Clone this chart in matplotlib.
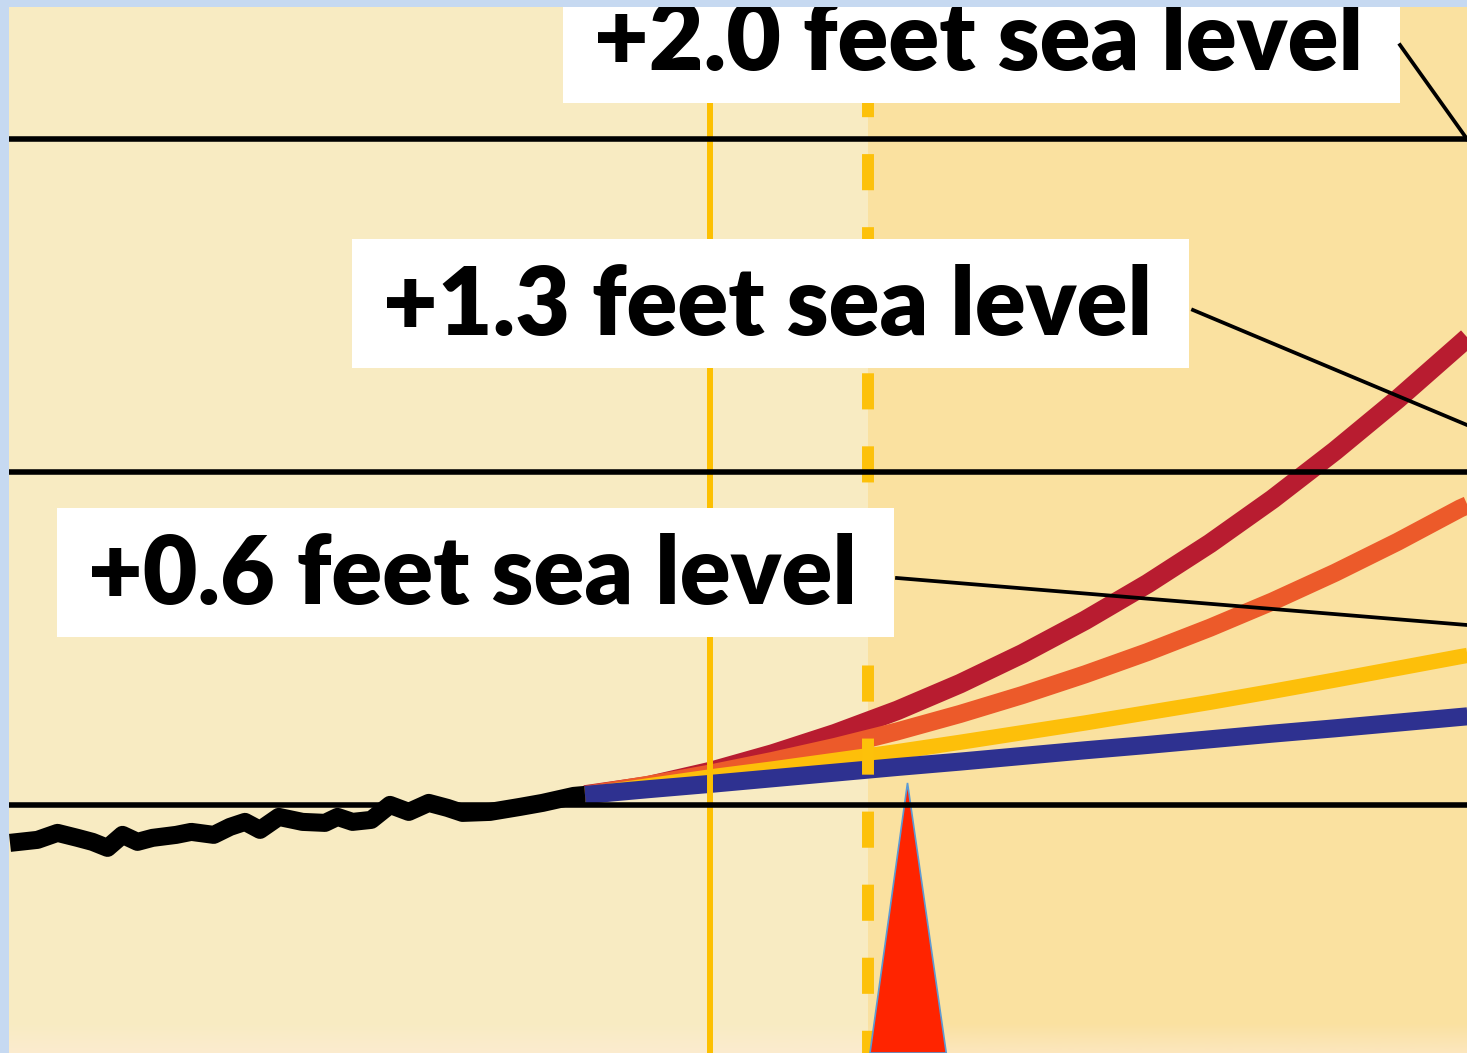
import numpy as np
import matplotlib
matplotlib.use("Agg")
import matplotlib.pyplot as plt
from matplotlib.patches import Rectangle, Polygon
from matplotlib.transforms import Affine2D

plt.rcParams['lines.scale_dashes'] = False

# observed sea level (feet, relative to the 0 line)
obs_year = [1974.0, 1976.2, 1977.8, 1979.4, 1980.6, 1981.8, 1983.0, 1984.2, 1985.4, 1987.3,
            1988.5, 1990.3, 1991.6, 1992.8, 1994.0, 1995.5, 1997.4, 1999.2, 2000.2, 2001.4,
            2002.9, 2004.4, 2005.9, 2007.5, 2009.0, 2010.2, 2012.4, 2014.8, 2016.6, 2019.1, 2020.0]
obs_ft = [-0.114, -0.105, -0.084, -0.099, -0.111, -0.129, -0.090, -0.111, -0.099, -0.090,
          -0.081, -0.090, -0.066, -0.051, -0.075, -0.036, -0.051, -0.054, -0.036, -0.051,
          -0.045, 0.000, -0.021, 0.006, -0.009, -0.024, -0.021, -0.006, 0.006, 0.027, 0.030]

# scenario projections
proj_year = [2020, 2025, 2030, 2035, 2040, 2045, 2050, 2055, 2060, 2065, 2070, 2075,
             2080, 2085, 2090, 2090.6]
high = [0.030, 0.057, 0.100, 0.153, 0.214, 0.284, 0.364, 0.454, 0.554, 0.664, 0.785,
        0.918, 1.063, 1.218, 1.383, 1.403]
int_high = [0.030, 0.060, 0.094, 0.132, 0.174, 0.221, 0.273, 0.330, 0.392, 0.459, 0.532,
            0.611, 0.697, 0.790, 0.890, 0.900]
intermediate = [0.030, 0.057, 0.084, 0.108, 0.134, 0.160, 0.188, 0.217, 0.246, 0.277,
                0.308, 0.341, 0.375, 0.410, 0.445, 0.449]
low = [0.030, 0.047, 0.063, 0.080, 0.097, 0.114, 0.130, 0.147, 0.164, 0.180, 0.197,
       0.214, 0.230, 0.247, 0.264, 0.266]

ref_lines = [0, 1, 2]
now_year = 2030
future_year = 2042.64
marker_year = 2045.8
labels = ['+2.0 feet sea level', '+1.3 feet sea level', '+0.6 feet sea level']

W, H = 1467, 1053
fig = plt.figure(figsize=(W / 100, H / 100), dpi=100, facecolor='#C6D9F1')
ax = fig.add_axes([9 / W, 0, (W - 9) / W, (H - 7) / H])
ax.set_facecolor('#F8EBC2')
for s in ax.spines.values():
    s.set_visible(False)
ax.set_xticks([])
ax.set_yticks([])

# pixel coords (top-left origin) for the label boxes
px = Affine2D().scale(1 / W, -1 / H).translate(0, 1) + fig.transFigure

ax.axvspan(future_year, 2090.56, color='#FAE1A0', zorder=0, lw=0)

# faint warm fade along the bottom edge
fade = np.zeros((30, 1, 4))
fade[..., :3] = matplotlib.colors.to_rgb('#FFEDDC')
fade[:, 0, 3] = np.linspace(0, 0.5, 30)
ax.imshow(fade, extent=(1973.92, 2090.56, -0.745, -0.745 + 30 / 333), aspect='auto',
          zorder=0.5, origin='upper', interpolation='bilinear')

# projections, blue on top
ax.plot(proj_year, high, color='#B81C30', lw=14, solid_capstyle='butt',
        solid_joinstyle='round', zorder=2)
ax.plot(proj_year, int_high, color='#EC5A2A', lw=13, solid_capstyle='butt',
        solid_joinstyle='round', zorder=2)
ax.plot(proj_year, intermediate, color='#FDBF0A', lw=11, solid_capstyle='butt',
        solid_joinstyle='round', zorder=2)
ax.plot(proj_year, low, color='#2E3190', lw=13, solid_capstyle='butt',
        solid_joinstyle='round', zorder=2)

ax.axvline(now_year, color='#FDC000', lw=4.3, zorder=3)
ax.axvline(future_year, color='#FDC10A', lw=8.6, linestyle=(10, (26, 26.6)), zorder=3)

# red marker
tri_x = [marker_year, marker_year - 3.0, marker_year + 3.1]
tri_y = [0.066, -0.745, -0.745]
ax.add_patch(Polygon(np.column_stack([tri_x, tri_y]), closed=True, fc='#FF2400',
                     ec='#5B9BD5', lw=1.2, zorder=4))

for v in ref_lines:
    ax.axhline(v, color='black', lw=4, zorder=5)

ax.plot(obs_year, obs_ft, color='black', lw=13, solid_joinstyle='round',
        solid_capstyle='butt', zorder=5)

ax.set_xlim(1973.92, 2090.56)
ax.set_ylim(-0.745, 2.396)

# label boxes
boxes = [(563, -26), (352, 239), (57, 508)]
leaders = [((1400, 45), (1467, 139)), ((1193, 310), (1467, 425)), ((897, 578), (1467, 625))]
for lab, (bx, by), (p0, p1) in zip(labels, boxes, leaders):
    ax.add_patch(Rectangle((bx, by), 837, 129, transform=px, fc='white', ec='none', zorder=6))
    ax.text(bx + 31, by + 96, lab, transform=px, fontsize=68, fontfamily='Lato',
            fontweight='heavy', color='black', ha='left', va='baseline', zorder=7, clip_on=True)
    ax.plot([p0[0], p1[0]], [p0[1], p1[1]], transform=px, color='black', lw=2.7, zorder=6)

fig.savefig('out.png', dpi=100, facecolor=fig.get_facecolor())
